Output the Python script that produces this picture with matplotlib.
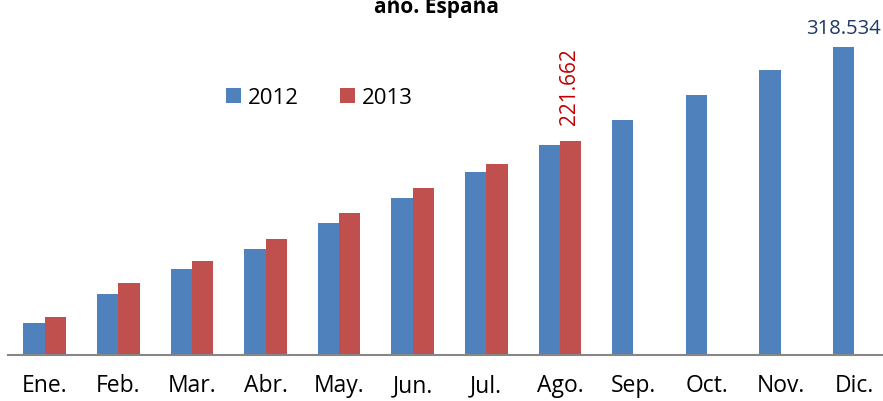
import matplotlib.pyplot as plt
import numpy as np

months = ['Ene.', 'Feb.', 'Mar.', 'Abr.', 'May.', 'Jun.', 'Jul.', 'Ago.',
          'Sep.', 'Oct.', 'Nov.', 'Dic.']
vals_2012 = [33.1, 63.1, 88.9, 109.6, 136.5, 162.4, 189.3, 217.2,
             243.0, 268.9, 294.7, 318.534]
vals_2013 = [39.3, 74.5, 97.2, 120.0, 146.9, 172.7, 197.5, 221.662]

plt.rcParams['font.family'] = ['Open Sans', 'DejaVu Sans']

fig = plt.figure(figsize=(8.83, 4.01), dpi=100)
# axes spans slightly past the right edge, as in the cropped original
ax = fig.add_axes([8 / 883, 46 / 401, 883 / 883, 308 / 401])

x = np.arange(len(months))
w = 0.29
ax.bar(x[:len(vals_2012)] - w / 2, vals_2012, w, color='#4F81BD', label='2012')
ax.bar(x[:len(vals_2013)] + w / 2, vals_2013, w, color='#C0504D', label='2013')

ax.set_xlim(-0.5, 11.5)
ax.set_ylim(0, 318.534)
ax.set_xticks(x)
ax.set_xticklabels(months, fontsize=16.5)
ax.tick_params(axis='x', length=0, pad=14)
ax.set_yticks([])
for s in ['top', 'right', 'left']:
    ax.spines[s].set_visible(False)
ax.spines['bottom'].set_color('#868686')
ax.spines['bottom'].set_linewidth(1.5)

# data labels
ax.annotate(f"{vals_2013[7]:.3f}", (x[7] + w / 2, vals_2013[7]),
            xytext=(-1, 11), textcoords='offset points', rotation=90,
            ha='center', va='bottom', color='#C00000', fontsize=15)
ax.annotate(f"{vals_2012[11]:.3f}", (x[11] - w / 2, vals_2012[11]),
            xytext=(0, 6), textcoords='offset points',
            ha='center', va='bottom', color='#1F3864', fontsize=14.5,
            annotation_clip=False)

ax.legend(loc='center left', bbox_to_anchor=(226 / 883, 1 - 98 / 401),
          bbox_transform=fig.transFigure, borderaxespad=0, borderpad=0,
          ncol=2, frameon=False, fontsize=16, handlelength=0.68,
          handleheight=0.68, handletextpad=0.3, columnspacing=1.85)

# title is cropped at the top in the original; only its last line shows
fig.text(437 / 883, 1 - 13 / 401, 'año. España', ha='center', va='baseline',
         fontsize=15, fontweight='bold')

fig.savefig('out.png', dpi=100)
